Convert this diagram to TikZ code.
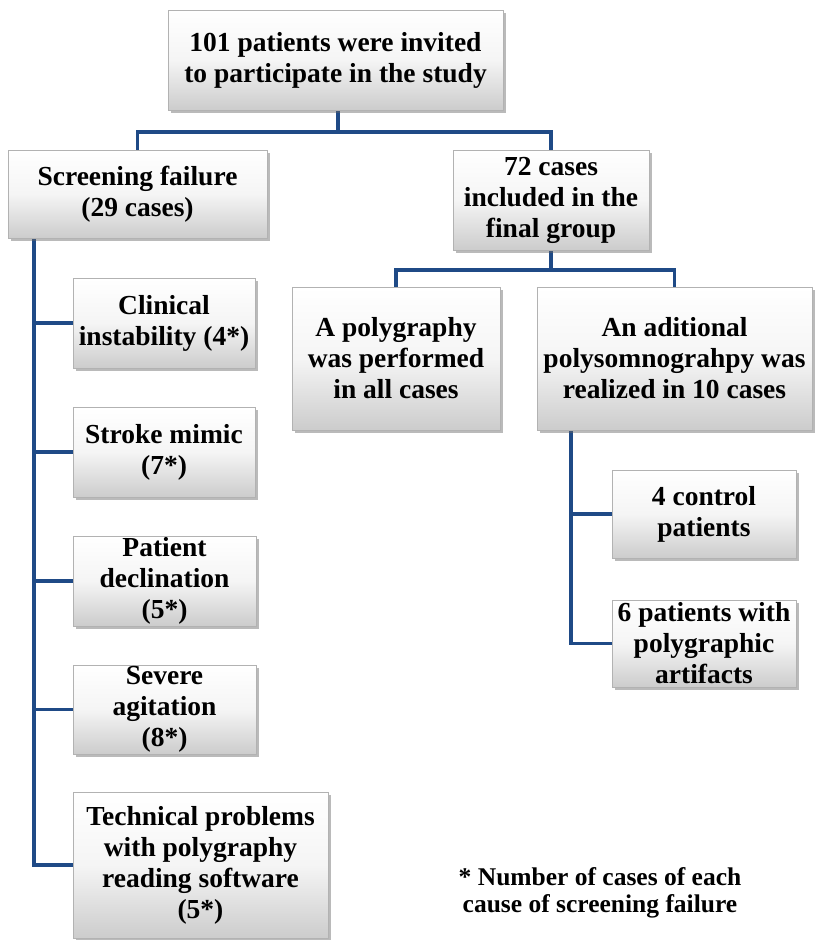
\documentclass[tikz,border=0pt]{standalone}
\usepackage{fontspec}
\setmainfont{Liberation Serif}[BoldFont={Liberation Serif Bold}]
\newfontfamily\boxfont{Liberation Serif Bold}
\usetikzlibrary{shadows,calc,backgrounds}
\definecolor{linkblue}{HTML}{1F4A86}
\tikzset{
  x=1pt,y=-1pt,
  box/.style={rectangle, draw=black!30, line width=0.6pt, top color=white, bottom color=black!20,
    middle color=black!4, drop shadow={shadow xshift=2.5pt, shadow yshift=-3pt, opacity=0.45, fill=black!60},
    align=center, inner sep=1pt, font=\boxfont\fontsize{27.5}{31}\selectfont},
  conn/.style={draw=linkblue, line width=3.6pt, line join=miter},
  foot/.style={align=center, font=\boxfont\fontsize{25.5}{27}\selectfont}
}
\begin{document}
\begin{tikzpicture}
\useasboundingbox (0,0) rectangle (823,940);
% boxes
\node[box, minimum width=335pt, minimum height=100pt] (top) at (335.5,60) {101 patients were invited\\to participate in the study};
\node[box, minimum width=259pt, minimum height=88pt] (scr) at (137.5,194) {Screening failure\\(29 cases)};
\node[box, minimum width=196pt, minimum height=100pt] (fin) at (551,200) {72 cases\\included in the\\final group};
\node[box, minimum width=208pt, minimum height=143pt] (poly) at (396,358.5) {A polygraphy\\was performed\\in all cases};
\node[box, minimum width=275pt, minimum height=143pt] (add) at (674.5,358.5) {An aditional\\polysomnograhpy was\\realized in 10 cases};
\node[box, minimum width=184pt, minimum height=88pt] (ctrl) at (704,514) {4 control\\patients};
\node[box, minimum width=184pt, minimum height=87pt] (art) at (704,643.5) {6 patients with\\polygraphic\\artifacts};
\node[box, minimum width=182pt, minimum height=90pt] (cli) at (164,323) {Clinical\\instability (4*)};
\node[box, minimum width=182pt, minimum height=90pt] (str) at (164,452) {Stroke mimic\\(7*)};
\node[box, minimum width=183pt, minimum height=90pt] (pat) at (164.5,581) {Patient\\declination\\(5*)};
\node[box, minimum width=183pt, minimum height=89pt] (sev) at (164.5,709.5) {Severe\\agitation\\(8*)};
\node[box, minimum width=255pt, minimum height=146pt] (tec) at (200.5,865) {Technical problems\\with polygraphy\\reading software\\(5*)};
\node[foot] (note) at (600,893) {* Number of cases of each\\cause of screening failure};
% junctions
\coordinate (j1) at (338,132);
\coordinate (j2) at (551,270);
\coordinate (lx) at (34,0);
\coordinate (rx) at (571,0);
% connectors (drawn behind boxes)
\begin{scope}[on background layer]
\draw[conn] (top.south -| j1) -- (j1);
\draw[conn] (j1) -| (scr.north);
\draw[conn] (j1) -| (fin.north);
\draw[conn] (fin.south) -- (j2);
\draw[conn] (j2) -| (poly.north);
\draw[conn] (j2) -| (add.north);
\draw[conn] (scr.south -| lx) |- (tec.west);
\draw[conn] (cli.west) -- (cli.west -| lx);
\draw[conn] (str.west) -- (str.west -| lx);
\draw[conn] (pat.west) -- (pat.west -| lx);
\draw[conn] (sev.west) -- (sev.west -| lx);
\draw[conn] (add.south -| rx) |- (art.west);
\draw[conn] (ctrl.west) -- (ctrl.west -| rx);
\end{scope}
\end{tikzpicture}
\end{document}
